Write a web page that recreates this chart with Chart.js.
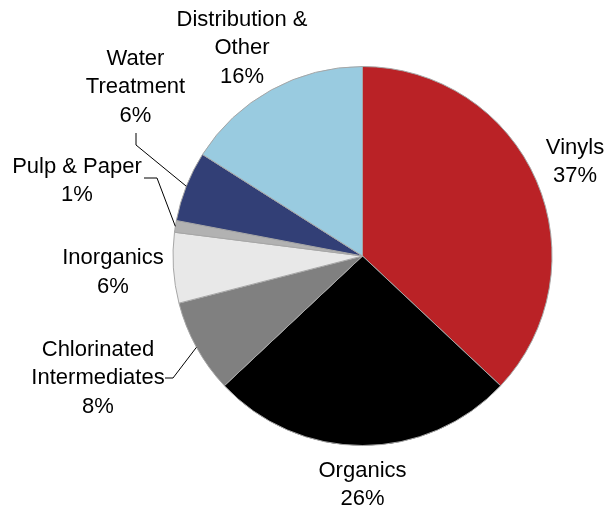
<!DOCTYPE html>
<html>
<head>
<meta charset="utf-8">
<script src="https://cdn.jsdelivr.net/npm/chart.js@4/dist/chart.umd.min.js"></script>
<style>
html,body{margin:0;padding:0;background:#fff;}
#wrap{width:607px;height:512px;position:relative;}
</style>
</head>
<body>
<div id="wrap"><canvas id="c" width="607" height="512"></canvas></div>
<script>
const categories = ["Vinyls", "Organics", "Chlorinated Intermediates", "Inorganics", "Pulp & Paper", "Water Treatment", "Distribution & Other"];
const values = [37, 26, 8, 6, 1, 6, 16];
const labelLines = [["Vinyls"], ["Organics"], ["Chlorinated", "Intermediates"], ["Inorganics"], ["Pulp & Paper"], ["Water", "Treatment"], ["Distribution &", "Other"]];
const colors = ["#BA2226", "#000000", "#808080", "#E8E8E8", "#B2B2B2", "#323F76", "#99CBE0"];

// label layout: center of text block relative to pie center (px)
const labelPos = [[212.5,-94],[0,229],[-264.5,122],[-249.5,16.5],[-285.5,-75],[-227,-169],[-120.5,-208]];
// leader polylines (relative to pie center), ending at the arc edge
const leaders = {2: [[-197.5,122],[-189.5,122]], 4: [[-218.5,-78],[-205.5,-78]], 5: [[-226.5,-123],[-226.5,-111]]};

const labelPlugin = {
  id: 'pieLabels',
  afterDatasetsDraw(chart) {
    const ctx = chart.ctx;
    const meta = chart.getDatasetMeta(0);
    ctx.save();
    ctx.font = '22px "Liberation Sans", Arial, sans-serif';
    ctx.fillStyle = '#000';
    ctx.textAlign = 'center';
    ctx.textBaseline = 'middle';
    const lh = 28.5;
    meta.data.forEach((arc, i) => {
      const p = arc.getProps(['x','y','startAngle','endAngle','outerRadius'], true);
      const cx = p.x, cy = p.y;
      const lines = labelLines[i].concat([values[i] + '%']);
      const [dx, dy] = labelPos[i];
      const top = cy + dy - (lines.length - 1) * lh / 2;
      lines.forEach((t, k) => ctx.fillText(t, cx + dx, top + k * lh));
      if (leaders[i]) {
        const mid = (p.startAngle + p.endAngle) / 2;
        const ex = cx + Math.cos(mid) * p.outerRadius;
        const ey = cy + Math.sin(mid) * p.outerRadius;
        ctx.beginPath();
        ctx.strokeStyle = '#000';
        ctx.lineWidth = 1;
        leaders[i].forEach((q, k) => {
          if (k === 0) ctx.moveTo(cx + q[0], cy + q[1]); else ctx.lineTo(cx + q[0], cy + q[1]);
        });
        ctx.lineTo(ex, ey);
        ctx.stroke();
      }
    });
    ctx.restore();
  }
};

new Chart(document.getElementById('c'), {
  type: 'pie',
  data: {
    labels: categories,
    datasets: [{
      data: values,
      backgroundColor: colors,
      borderColor: '#A6A6A6',
      borderWidth: 1
    }]
  },
  options: {
    responsive: false,
    animation: false,
    layout: { padding: { left: 172, right: 54, top: 66, bottom: 66 } },
    plugins: { legend: { display: false }, tooltip: { enabled: false } }
  },
  plugins: [labelPlugin]
});
</script>
</body>
</html>
